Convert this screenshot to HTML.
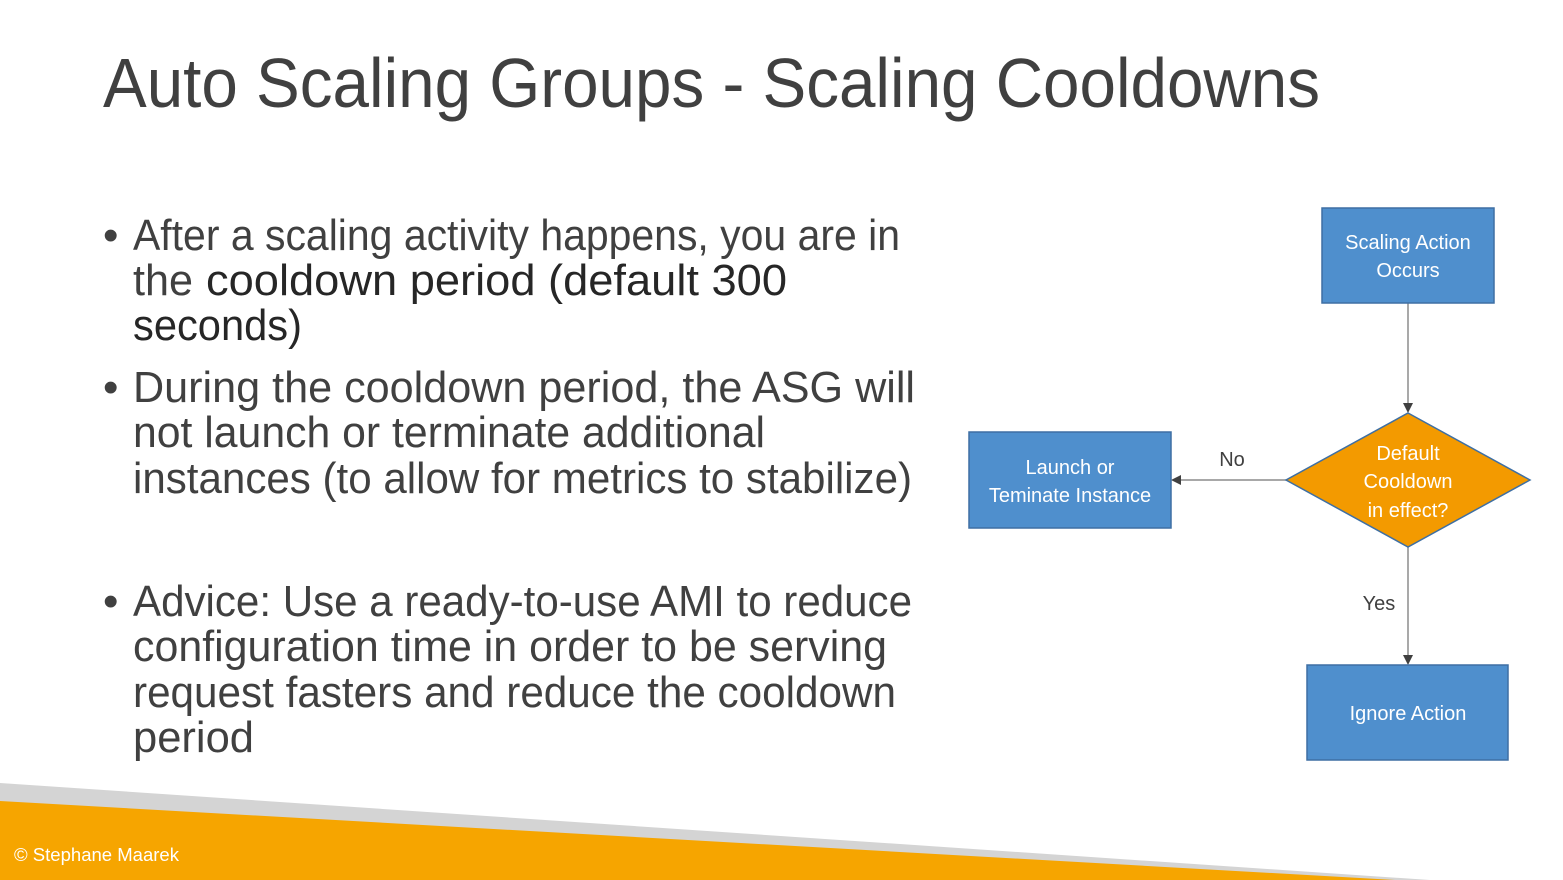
<!DOCTYPE html>
<html><head><meta charset="utf-8"><style>
html,body{margin:0;padding:0;background:#fff;}
svg{display:block;}
</style></head><body>
<svg width="1563" height="880" viewBox="0 0 1563 880" xmlns="http://www.w3.org/2000/svg" font-family="Liberation Sans, sans-serif">
<rect width="1563" height="880" fill="#fff"/>
<polygon points="0,783 1430,880 0,880" fill="#d4d4d4"/>
<polygon points="0,801 1395,880 0,880" fill="#f6a500"/>
<text x="14" y="861" font-size="18" fill="#fff" textLength="165" lengthAdjust="spacingAndGlyphs">© Stephane Maarek</text>

<text x="103" y="107" font-size="70" fill="#404040" textLength="1217" lengthAdjust="spacingAndGlyphs">Auto Scaling Groups - Scaling Cooldowns</text>

<g font-size="44" fill="#404040">
<text x="103" y="250">•</text>
<text x="133" y="250" textLength="767" lengthAdjust="spacingAndGlyphs">After a scaling activity happens, you are in</text>
<text x="133" y="295" textLength="60" lengthAdjust="spacingAndGlyphs">the</text>
<text x="206" y="295" fill="#262626" textLength="581" lengthAdjust="spacingAndGlyphs">cooldown period (default 300</text>
<text x="133" y="340" fill="#262626" textLength="169" lengthAdjust="spacingAndGlyphs">seconds)</text>
<text x="103" y="402">•</text>
<text x="133" y="402" textLength="782" lengthAdjust="spacingAndGlyphs">During the cooldown period, the ASG will</text>
<text x="133" y="447" textLength="632" lengthAdjust="spacingAndGlyphs">not launch or terminate additional</text>
<text x="133" y="493" textLength="779" lengthAdjust="spacingAndGlyphs">instances (to allow for metrics to stabilize)</text>
<text x="103" y="616">•</text>
<text x="133" y="616" textLength="779" lengthAdjust="spacingAndGlyphs">Advice: Use a ready-to-use AMI to reduce</text>
<text x="133" y="661" textLength="754" lengthAdjust="spacingAndGlyphs">configuration time in order to be serving</text>
<text x="133" y="707" textLength="763" lengthAdjust="spacingAndGlyphs">request fasters and reduce the cooldown</text>
<text x="133" y="752" textLength="121" lengthAdjust="spacingAndGlyphs">period</text>
</g>

<g stroke="#8c8c8c" stroke-width="1.5" fill="none">
<line x1="1408" y1="303" x2="1408" y2="404"/>
<line x1="1286" y1="480" x2="1181" y2="480"/>
<line x1="1408" y1="547" x2="1408" y2="656"/>
</g>
<g fill="#404040">
<polygon points="1403,403 1413,403 1408,413"/>
<polygon points="1181,475 1181,485 1171,480"/>
<polygon points="1403,655 1413,655 1408,665"/>
</g>

<g stroke="#3e6fa3" stroke-width="1.5" fill="#4f8fcd">
<rect x="1322" y="208" width="172" height="95"/>
<rect x="969" y="432" width="202" height="96"/>
<rect x="1307" y="665" width="201" height="95"/>
</g>
<polygon points="1408,413 1530,480 1408,547 1286,480" fill="#f39a00" stroke="#3e6fa3" stroke-width="1.5"/>

<g font-size="20" fill="#fff" text-anchor="middle">
<text x="1408" y="249">Scaling Action</text>
<text x="1408" y="277">Occurs</text>
<text x="1070" y="474">Launch or</text>
<text x="1070" y="502">Teminate Instance</text>
<text x="1408" y="720">Ignore Action</text>
<text x="1408" y="460">Default</text>
<text x="1408" y="488">Cooldown</text>
<text x="1408" y="517">in effect?</text>
</g>
<g font-size="20" fill="#404040" text-anchor="middle">
<text x="1232" y="466">No</text>
<text x="1379" y="610">Yes</text>
</g>
</svg>
</body></html>
